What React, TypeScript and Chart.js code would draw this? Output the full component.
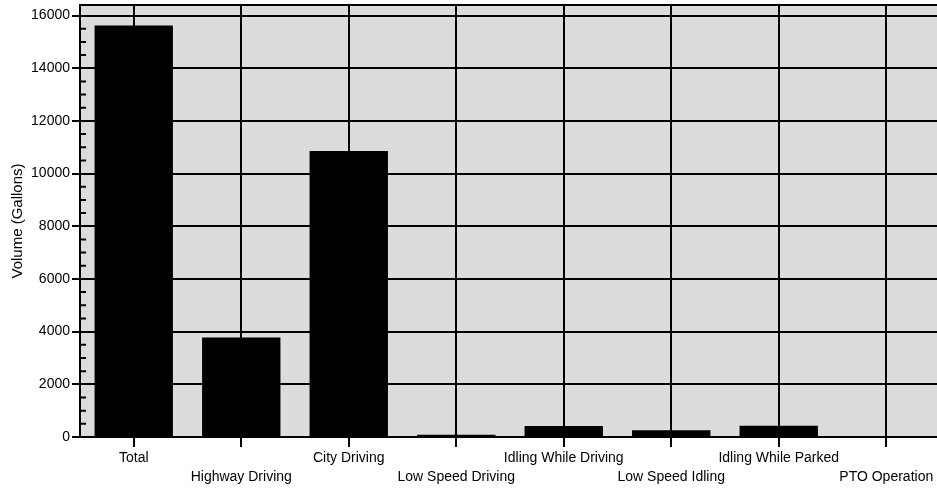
import React, { useEffect, useRef } from 'react';
import { Chart, registerables } from 'chart.js';

Chart.register(...registerables);

const categories = [
  'Total',
  'Highway Driving',
  'City Driving',
  'Low Speed Driving',
  'Idling While Driving',
  'Low Speed Idling',
  'Idling While Parked',
  'PTO Operation',
];
const volumes = [15620, 3780, 10860, 90, 420, 260, 430, 0];
const yMajorTicks = [0, 2000, 4000, 6000, 8000, 10000, 12000, 14000, 16000];
const yMinorTicks = [500, 1000, 1500, 2500, 3000, 3500, 4500, 5000, 5500, 6500, 7000, 7500, 8500, 9000, 9500, 10500, 11000, 11500, 12500, 13000, 13500, 14500, 15000, 15500];
const yAxisTitle = 'Volume (Gallons)';

const FONT = "'Liberation Sans', Arial, sans-serif";

const framePlugin = {
  id: 'frame',
  beforeDraw(chart: any) {
    const { ctx, chartArea } = chart;
    ctx.save();
    ctx.fillStyle = '#dcdcdc';
    ctx.fillRect(chartArea.left, chartArea.top, chartArea.right - chartArea.left, chartArea.bottom - chartArea.top);
    ctx.restore();
  },
  afterDraw(chart: any) {
    const { ctx, chartArea } = chart;
    const y = chart.scales.y;
    ctx.save();
    ctx.strokeStyle = '#000';
    ctx.lineWidth = 2;
    ctx.beginPath();
    ctx.moveTo(chartArea.left - 1, chartArea.top);
    ctx.lineTo(chartArea.right, chartArea.top);
    ctx.stroke();
    ctx.beginPath();
    for (const v of yMinorTicks) {
      const py = y.getPixelForValue(v);
      ctx.moveTo(chartArea.left, py);
      ctx.lineTo(chartArea.left + 6, py);
    }
    ctx.stroke();
    ctx.restore();
  },
};

export default function App() {
  const canvasRef = useRef<HTMLCanvasElement | null>(null);

  useEffect(() => {
    if (!canvasRef.current) return;
    const chart = new Chart(canvasRef.current, {
      type: 'bar',
      data: {
        labels: categories,
        datasets: [
          {
            data: volumes,
            backgroundColor: '#000',
            borderWidth: 0,
            barPercentage: 0.9,
            categoryPercentage: 0.81,
          },
        ],
      },
      options: {
        animation: false,
        responsive: true,
        maintainAspectRatio: false,
        layout: { padding: { top: 5, left: 0, right: 0, bottom: 0 } },
        plugins: {
          legend: { display: false },
          tooltip: { enabled: false },
          title: { display: false },
        },
        scales: {
          x: {
            offset: true,
            grid: {
              offset: false,
              color: '#000',
              lineWidth: 2,
              tickLength: 10,
              drawTicks: true,
            },
            border: { color: '#000', width: 2 },
            ticks: {
              autoSkip: false,
              maxRotation: 0,
              minRotation: 0,
              padding: 2,
              color: '#000',
              font: { family: FONT, size: 14, lineHeight: 1.36 },
              callback: (_v: any, i: number) => (i % 2 ? ['', categories[i]] : categories[i]),
            },
            afterFit: (scale: any) => {
              scale.height = 53;
              scale.paddingLeft = 0;
              scale.paddingRight = 0;
            },
          },
          y: {
            min: 0,
            max: 16400,
            grid: {
              color: '#000',
              lineWidth: 2,
              tickLength: 8,
              drawTicks: true,
            },
            border: { color: '#000', width: 2 },
            ticks: {
              stepSize: 2000,
              padding: 2,
              color: '#000',
              font: { family: FONT, size: 14 },
              callback: (v: any) => String(v),
            },
            afterBuildTicks: (scale: any) => {
              scale.ticks = yMajorTicks.map((v) => ({ value: v }));
            },
            title: {
              display: true,
              text: yAxisTitle,
              color: '#000',
              font: { family: FONT, size: 15 },
              padding: { top: 9, bottom: 0 },
            },
            afterFit: (scale: any) => {
              scale.width = 80;
              scale.paddingTop = 0;
              scale.paddingBottom = 0;
            },
          },
        },
      },
      plugins: [framePlugin],
    });
    return () => chart.destroy();
  }, []);

  return (
    <div style={{ position: 'fixed', left: 0, top: 0, width: 940, height: 490, overflow: 'hidden', background: '#fff' }}>
      <canvas ref={canvasRef} />
    </div>
  );
}
